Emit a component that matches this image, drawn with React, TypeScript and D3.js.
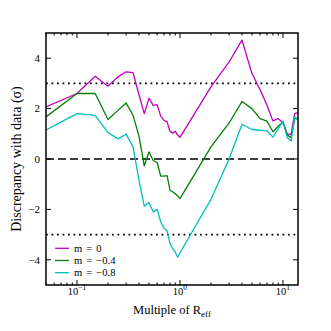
import { useEffect, useRef } from "react";
import * as d3 from "d3";

// radius in units of R_eff
const radii = [
  0.05, 0.1, 0.15, 0.2, 0.25, 0.3, 0.35, 0.4, 0.45, 0.5, 0.55, 0.6, 0.65, 0.7,
  0.75, 0.8, 0.85, 0.9, 0.95, 1, 2, 3, 4, 5, 6, 7, 8, 9, 10, 11, 12, 13, 14,
];
// discrepancy (sigma) for each slope m
const mZero = [
  2.07, 2.6, 3.28, 2.89, 3.26, 3.46, 3.43, 2.55, 1.8, 2.41, 2.13, 2.16, 1.7,
  1.53, 1.47, 1.1, 1.02, 1.1, 0.95, 0.86, 2.86, 3.85, 4.72, 3.39, 2.75, 2.13,
  1.51, 1.6, 1.45, 1.0, 0.97, 1.8, 1.84,
];
const mMinus04 = [
  1.67, 2.6, 2.6, 1.57, 1.93, 2.22, 1.74, 0.9, -0.27, 0.28, -0.06, -0.14,
  -0.68, -0.68, -0.66, -1.24, -1.3, -1.38, -1.47, -1.57, 0.48, 1.43, 2.28, 2.0,
  1.6, 1.5, 1.08, 1.3, 1.47, 0.95, 0.85, 1.62, 1.57,
];
const mMinus08 = [
  1.15, 1.8, 1.73, 1.05, 0.8, 0.98, 0.48, -0.85, -1.87, -1.73, -2.1, -2.0,
  -2.5, -2.75, -2.85, -3.35, -3.56, -3.7, -3.9, -3.72, -1.6, 0.0, 1.38, 1.17,
  1.14, 1.12, 0.87, 1.2, 1.5, 0.85, 0.72, 1.65, 1.6,
];

const seriesLabels = ["m = 0", "m = \u22120.4", "m = \u22120.8"];
const seriesColors = ["#bf00bf", "#008000", "#00bfbf"];
const yTicks = [-4, -2, 0, 2, 4];
const xDecades = [-1, 0, 1];
const sigmaLevels = [3, -3];

export default function App() {
  const chartRef = useRef<SVGSVGElement>(null);

  useEffect(() => {
    const margin = { top: 33, right: 33, bottom: 46, left: 46 };
    const width = 331 - margin.left - margin.right;
    const height = 331 - margin.top - margin.bottom;
    const serif = "'Liberation Serif', 'Times New Roman', serif";

    const chart = d3.select(chartRef.current);
    chart.selectAll("*").remove();

    const x = d3.scaleLog().domain([0.05, 14]).range([0, width]);
    const y = d3.scaleLinear().domain([-5, 5]).range([height, 0]);

    const g = chart
      .append("g")
      .attr("transform", `translate(${margin.left},${margin.top})`);

    g.append("clipPath")
      .attr("id", "plot-clip")
      .append("rect")
      .attr("width", width)
      .attr("height", height);

    // reference levels
    g.selectAll(".sigma")
      .data(sigmaLevels)
      .enter()
      .append("line")
      .attr("x1", 0)
      .attr("x2", width)
      .attr("y1", (d) => y(d))
      .attr("y2", (d) => y(d))
      .attr("stroke", "black")
      .attr("stroke-width", 1.8)
      .attr("stroke-dasharray", "1.8 3.7");
    g.append("line")
      .attr("x1", 0)
      .attr("x2", width)
      .attr("y1", y(0))
      .attr("y2", y(0))
      .attr("stroke", "black")
      .attr("stroke-width", 1.7)
      .attr("stroke-dasharray", "8 4");

    // series
    const series = [mZero, mMinus04, mMinus08];
    const line = d3
      .line<number>()
      .x((d, i) => x(radii[i]))
      .y((d) => y(d));
    series.forEach((vals, k) => {
      g.append("path")
        .datum(vals)
        .attr("clip-path", "url(#plot-clip)")
        .attr("fill", "none")
        .attr("stroke", seriesColors[k])
        .attr("stroke-width", 1.3)
        .attr("stroke-linejoin", "round")
        .attr("d", line);
    });

    // ticks, inside on all four sides
    const xMinor = x
      .ticks()
      .filter((t) => !xDecades.includes(Math.round(Math.log10(t) * 1000) / 1000));
    const xMajor = xDecades.map((e) => Math.pow(10, e));
    const ticks = g.append("g").attr("stroke", "black").attr("stroke-width", 1);
    [0, height].forEach((base) => {
      const dir = base === 0 ? 1 : -1;
      ticks
        .selectAll(null)
        .data(xMinor)
        .enter()
        .append("line")
        .attr("x1", (d) => x(d))
        .attr("x2", (d) => x(d))
        .attr("y1", base)
        .attr("y2", base + dir * 2.5);
      ticks
        .selectAll(null)
        .data(xMajor)
        .enter()
        .append("line")
        .attr("x1", (d) => x(d))
        .attr("x2", (d) => x(d))
        .attr("y1", base)
        .attr("y2", base + dir * 5);
    });
    [0, width].forEach((base) => {
      const dir = base === 0 ? 1 : -1;
      ticks
        .selectAll(null)
        .data(yTicks)
        .enter()
        .append("line")
        .attr("x1", base)
        .attr("x2", base + dir * 5)
        .attr("y1", (d) => y(d))
        .attr("y2", (d) => y(d));
    });

    // frame
    g.append("rect")
      .attr("width", width)
      .attr("height", height)
      .attr("fill", "none")
      .attr("stroke", "black")
      .attr("stroke-width", 1.5);

    // tick labels
    g.selectAll(".ylab")
      .data(yTicks)
      .enter()
      .append("text")
      .attr("x", -6)
      .attr("y", (d) => y(d) + 3.8)
      .attr("text-anchor", "end")
      .attr("font-family", serif)
      .attr("font-size", 11)
      .text((d) => (d < 0 ? "\u2212" + Math.abs(d) : String(d)));

    const xl = g
      .selectAll(".xlab")
      .data(xDecades)
      .enter()
      .append("text")
      .attr("x", (d) => x(Math.pow(10, d)))
      .attr("y", height + 9.5)
      .attr("text-anchor", "middle")
      .attr("font-family", serif)
      .attr("font-size", 10.5);
    xl.append("tspan").text("10");
    xl.append("tspan")
      .attr("dy", -4.5)
      .attr("font-size", 7.5)
      .text((d) => (d < 0 ? "\u2212" + Math.abs(d) : String(d)));

    // axis titles
    const xt = g
      .append("text")
      .attr("x", width / 2)
      .attr("y", height + 29)
      .attr("text-anchor", "middle")
      .attr("font-family", serif)
      .attr("font-size", 12.5);
    xt.append("tspan").text("Multiple of R");
    xt.append("tspan").attr("dy", 2.5).attr("font-size", 9).text("eff");

    g.append("text")
      .attr("transform", `translate(${21 - margin.left},${height / 2}) rotate(-90)`)
      .attr("text-anchor", "middle")
      .attr("font-family", serif)
      .attr("font-size", 14)
      .text("Discrepancy with data (\u03c3)");

    // legend
    const legendY = [248.3, 260.5, 272.7].map((v) => v - margin.top);
    seriesLabels.forEach((label, k) => {
      g.append("line")
        .attr("x1", 55 - margin.left)
        .attr("x2", 69 - margin.left)
        .attr("y1", legendY[k])
        .attr("y2", legendY[k])
        .attr("stroke", seriesColors[k])
        .attr("stroke-width", 1.3);
      g.append("text")
        .attr("x", 74 - margin.left)
        .attr("y", legendY[k] + 3.3)
        .attr("font-family", serif)
        .attr("font-size", 10.5)
        .attr("word-spacing", 1.5)
        .text(label);
    });
  }, []);

  return (
    <svg
      ref={chartRef}
      width={331}
      height={331}
      style={{ position: "absolute", left: 0, top: 0, background: "white" }}
    ></svg>
  );
}
